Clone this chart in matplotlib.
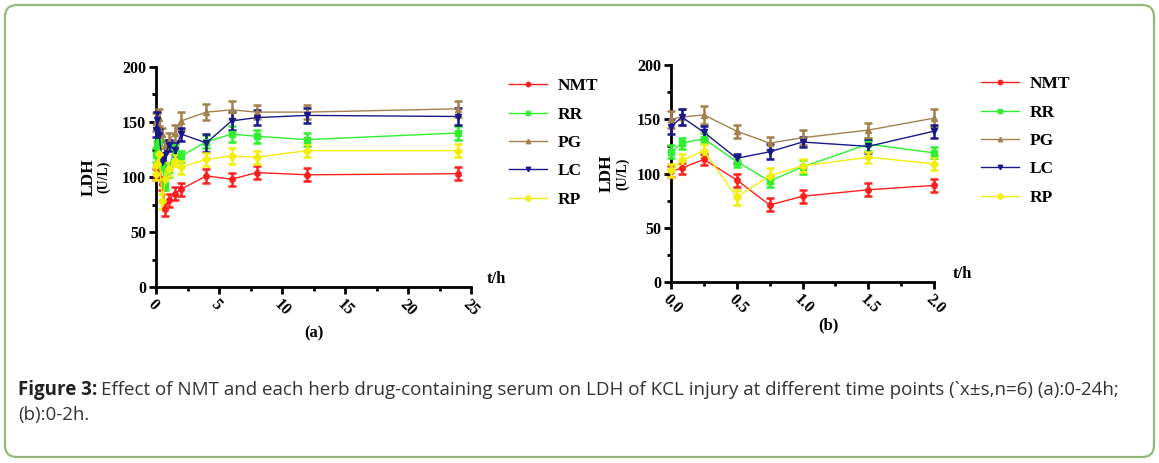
import numpy as np
import matplotlib
matplotlib.use("Agg")
import matplotlib.pyplot as plt
from matplotlib.patches import FancyBboxPatch
from matplotlib.ticker import MultipleLocator

# Datos
t_a = [0, 0.083, 0.25, 0.5, 0.75, 1, 1.5, 2, 4, 6, 8, 12, 24]
t_b = [0, 0.083, 0.25, 0.5, 0.75, 1, 1.5, 2]

nombres = ["NMT", "RR", "PG", "LC", "RP"]

# 0-2h (panel b)
nmt_b = [102, 105, 113, 94, 71, 79, 85, 89]
rr_b = [120, 128, 132, 111, 93, 106, 127, 119]
pg_b = [150, 152, 154, 139, 128, 133, 140, 151]
lc_b = [143, 152, 138, 114, 120, 129, 125, 139]
rp_b = [103, 112, 121, 78, 98, 107, 115, 109]

# 4, 6, 8, 12, 24 h (panel a)
nmt_t = [101, 98, 104, 102, 103]
rr_t = [132, 139, 137, 134, 140]
pg_t = [159, 161, 159, 159, 162]
lc_t = [131, 151, 154, 156, 155]
rp_t = [116, 119, 118, 124, 124]

# desvio estandar aprox.
sd_nmt = [5, 5, 5, 6, 6, 6, 6, 6, 6, 6, 6, 6, 6]
sd_rr = [6, 5, 5, 5, 5, 6, 6, 5, 6, 7, 6, 6, 6]
sd_pg = [8, 7, 8, 6, 6, 7, 7, 8, 7, 8, 6, 6, 7]
sd_lc = [7, 7, 6, 4, 7, 5, 6, 6, 8, 8, 7, 7, 8]
sd_rp = [6, 6, 6, 7, 7, 6, 5, 6, 6, 7, 6, 6, 6]

y_ticks = [0, 50, 100, 150, 200]

colores = ["#ff1f1f", "#2ef02e", "#a3804c", "#18188a", "#f2ee0c"]
marcas = ["o", "s", "^", "v", "D"]

series_b = [nmt_b, rr_b, pg_b, lc_b, rp_b]
series_a = [nmt_b + nmt_t, rr_b + rr_t, pg_b + pg_t, lc_b + lc_t, rp_b + rp_t]
sds = [sd_nmt, sd_rr, sd_pg, sd_lc, sd_rp]

serif = "Liberation Serif"

fig = plt.figure(figsize=(11.59, 4.63), dpi=100)

# marco redondeado
fondo = fig.add_axes([0, 0, 1, 1])
fondo.set_xlim(0, 1159)
fondo.set_ylim(463, 0)
fondo.axis("off")
fondo.add_patch(FancyBboxPatch((5, 5), 1149, 452, boxstyle="round,pad=0,rounding_size=12",
                               fill=False, ec="#94b87a", lw=1.6))

ax_a = fig.add_axes([156 / 1159, 1 - 287 / 463, 315 / 1159, 220 / 463])
ax_b = fig.add_axes([671 / 1159, 1 - 282 / 463, 263 / 1159, 217 / 463])


def estilo(ax, xmax, xmaj, xmin, etiqueta, pos_lbl, pos_t, pos_panel, fmt):
    for s in ["top", "right"]:
        ax.spines[s].set_visible(False)
    for s in ["left", "bottom"]:
        ax.spines[s].set_linewidth(2)
    ax.set_yticks(y_ticks)
    ax.set_yticklabels([str(v) for v in y_ticks], fontfamily=serif,
                       fontweight="bold", fontsize=11.5)
    ax.yaxis.set_minor_locator(MultipleLocator(25))
    xt = np.arange(0, xmax + xmaj / 2, xmaj)
    ax.set_xticks(xt)
    ax.set_xticklabels([fmt.format(v) for v in xt], fontfamily=serif, fontweight="bold",
                       fontsize=11.5, rotation=-45, ha="left", va="top", rotation_mode="anchor")
    ax.xaxis.set_minor_locator(MultipleLocator(xmin))
    ax.tick_params(which="major", length=5, width=2, direction="out", pad=2)
    ax.tick_params(which="minor", length=3, width=2, direction="out")
    ax.set_xlim(0, xmax)
    ax.set_ylim(0, 200)
    ax.text(pos_lbl[0], pos_lbl[1], "LDH", transform=ax.transAxes, rotation=90,
            ha="center", va="center", fontfamily=serif, fontweight="bold", fontsize=12.5)
    ax.text(pos_lbl[0] + pos_lbl[2], pos_lbl[1], "(U/L)", transform=ax.transAxes, rotation=90,
            ha="center", va="center", fontfamily=serif, fontweight="bold", fontsize=10)
    ax.text(pos_t[0], pos_t[1], "t/h", transform=ax.transAxes, ha="left", va="bottom",
            fontfamily=serif, fontweight="bold", fontsize=12)
    ax.text(pos_panel[0], pos_panel[1], etiqueta, transform=ax.transAxes, ha="center",
            va="center", fontfamily=serif, fontweight="bold", fontsize=12)


for ax, t, series, lim in [(ax_a, t_a, series_a, 13), (ax_b, t_b, series_b, 8)]:
    for i in range(5):
        ax.errorbar(t, series[i], yerr=sds[i][:lim], color=colores[i], marker=marcas[i],
                    ms=4, lw=1.0, elinewidth=1.8, capsize=3, capthick=1.8,
                    label=nombres[i], clip_on=False, zorder=3)

estilo(ax_a, 25, 5, 2.5, "(a)", (-0.215, 0.5, 0.05), (1.05, 0.0), (0.5, -0.21), "{:g}")
estilo(ax_b, 2, 0.5, 0.25, "(b)", (-0.245, 0.5, 0.06), (1.07, 0.0), (0.6, -0.2), "{:.1f}")

for ax, anc in [(ax_a, (1.07, 1.02)), (ax_b, (1.12, 1.02))]:
    h, l = ax.get_legend_handles_labels()
    h = [x[0] for x in h]
    ax.legend(h, l, loc="upper left", bbox_to_anchor=anc, frameon=False,
              prop={"family": serif, "weight": "bold", "size": 12.5},
              handlelength=2.2, labelspacing=0.7, handletextpad=0.6, markerscale=0.8)

# leyenda de la figura
fam = ["Open Sans", "DejaVu Sans"]
t1 = fig.text(18 / 1159, 1 - 390 / 463, "Figure 3:", fontfamily=fam, fontweight="bold",
              fontsize=13.5, color="#222222", va="center")
fig.canvas.draw()
bb = t1.get_window_extent()
fig.text(bb.x1 / 1159 + 0.003, 1 - 390 / 463,
         "Effect of NMT and each herb drug-containing serum on LDH of KCL injury at different time points (`x\u00b1s,n=6) (a):0-24h;",
         fontfamily=fam, fontsize=13.5, color="#333333", va="center")
fig.text(18 / 1159, 1 - 415 / 463, "(b):0-2h.", fontfamily=fam, fontsize=13.5,
         color="#333333", va="center")

plt.savefig("out.png", dpi=100)
